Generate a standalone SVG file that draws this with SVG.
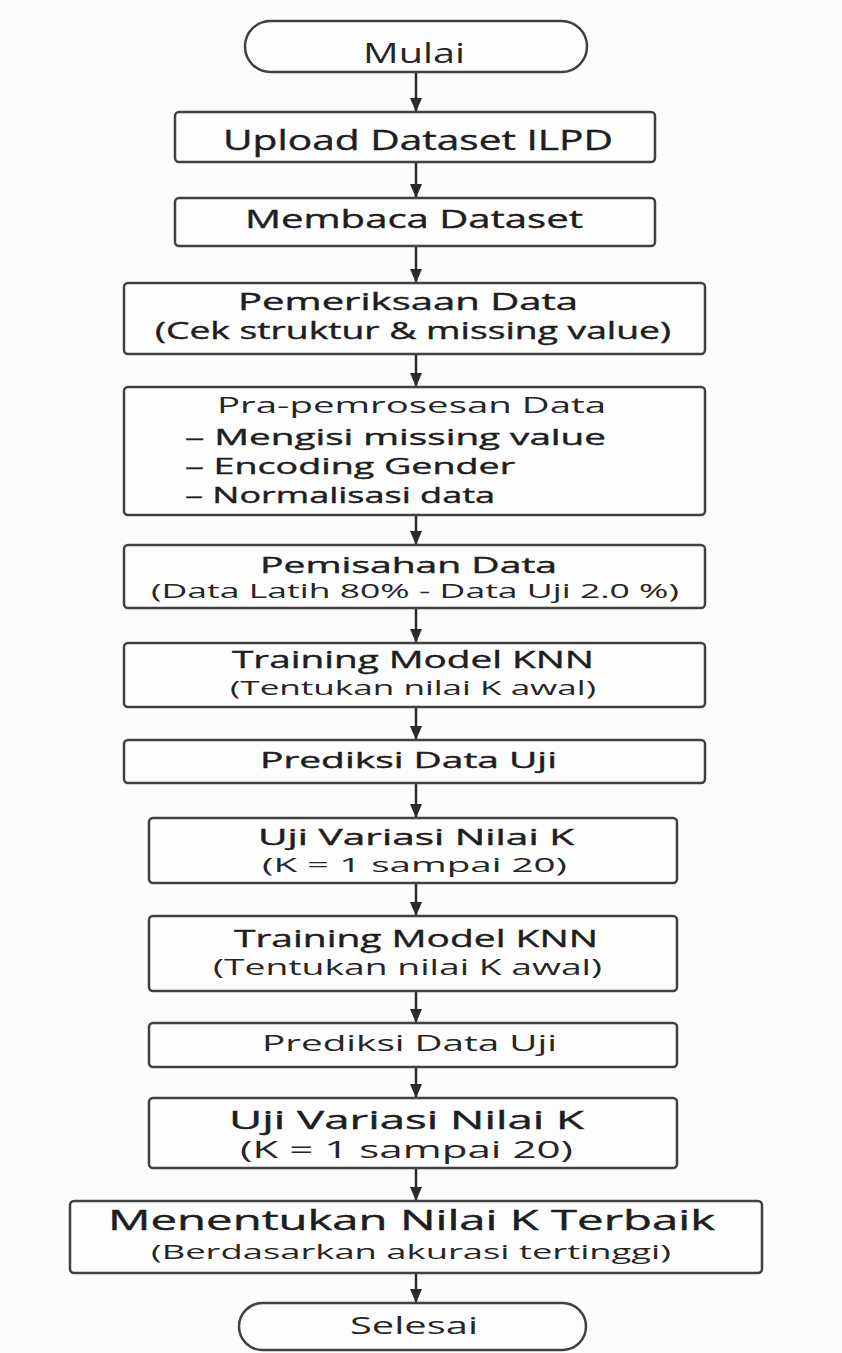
<svg xmlns="http://www.w3.org/2000/svg" width="842" height="1353" viewBox="0 0 842 1353">
<style>
.bg{fill:#fcfcfc}
.box{fill:#fdfdfd;stroke:#404040;stroke-width:2.5}
.t{font-family:"Open Sans","DejaVu Sans",sans-serif;fill:#1e1e1e;font-weight:normal;stroke:#1e1e1e;stroke-width:0.4}
.s{font-family:"Open Sans","DejaVu Sans",sans-serif;fill:#262626;font-weight:normal}
.c{stroke:#2a2a2a;stroke-width:2.5;fill:none}
</style>
<defs>
<marker id="ah" viewBox="0 0 14 12" refX="13" refY="6" markerWidth="14" markerHeight="12" markerUnits="userSpaceOnUse" orient="auto">
<path d="M0,0 L14,6 L0,12 Z" fill="#2a2a2a"/>
</marker>
</defs>
<rect class="bg" x="0" y="0" width="842" height="1353"/>
<g id="connectors">
<line class="c" x1="416" y1="72" x2="416" y2="111" marker-end="url(#ah)"/>
<line class="c" x1="416" y1="162" x2="416" y2="197" marker-end="url(#ah)"/>
<line class="c" x1="416" y1="246" x2="416" y2="282" marker-end="url(#ah)"/>
<line class="c" x1="416" y1="354" x2="416" y2="386" marker-end="url(#ah)"/>
<line class="c" x1="416" y1="515" x2="416" y2="544" marker-end="url(#ah)"/>
<line class="c" x1="416" y1="608" x2="416" y2="642" marker-end="url(#ah)"/>
<line class="c" x1="416" y1="707" x2="416" y2="739" marker-end="url(#ah)"/>
<line class="c" x1="416" y1="783" x2="416" y2="817" marker-end="url(#ah)"/>
<line class="c" x1="416" y1="883" x2="416" y2="915" marker-end="url(#ah)"/>
<line class="c" x1="416" y1="991" x2="416" y2="1022" marker-end="url(#ah)"/>
<line class="c" x1="416" y1="1067" x2="416" y2="1097" marker-end="url(#ah)"/>
<line class="c" x1="416" y1="1168" x2="416" y2="1200" marker-end="url(#ah)"/>
<line class="c" x1="416" y1="1273" x2="416" y2="1302" marker-end="url(#ah)"/>
</g>
<g id="mulai">
<rect class="box" x="245" y="21" width="342" height="51" rx="25.5"/>
<text class="s" x="363" y="63" font-size="28" textLength="102" lengthAdjust="spacingAndGlyphs">Mulai</text>
</g>
<g id="upload">
<rect class="box" x="175" y="112" width="480" height="50" rx="4"/>
<text class="t" x="223" y="150" font-size="27" textLength="390" lengthAdjust="spacingAndGlyphs">Upload Dataset ILPD</text>
</g>
<g id="membaca">
<rect class="box" x="175" y="198" width="480" height="48" rx="4"/>
<text class="t" x="245" y="228" font-size="26" textLength="338" lengthAdjust="spacingAndGlyphs">Membaca Dataset</text>
</g>
<g id="pemeriksaan">
<rect class="box" x="124" y="283" width="581" height="71" rx="4"/>
<text class="t" x="238" y="310" font-size="24" textLength="340" lengthAdjust="spacingAndGlyphs">Pemeriksaan Data</text>
<text class="t" x="155" y="339" font-size="23" textLength="516" lengthAdjust="spacingAndGlyphs">(Cek struktur &amp; missing value)</text>
</g>
<g id="prapemrosesan">
<rect class="box" x="124" y="387" width="581" height="128" rx="4"/>
<text class="s" x="217" y="413" font-size="22" textLength="389" lengthAdjust="spacingAndGlyphs">Pra-pemrosesan Data</text>
<text class="t" x="185" y="445" font-size="22" textLength="421" lengthAdjust="spacingAndGlyphs">– Mengisi missing value</text>
<text class="t" x="185" y="474" font-size="22" textLength="330" lengthAdjust="spacingAndGlyphs">– Encoding Gender</text>
<text class="t" x="185" y="503" font-size="22" textLength="310" lengthAdjust="spacingAndGlyphs">– Normalisasi data</text>
</g>
<g id="pemisahan">
<rect class="box" x="124" y="545" width="581" height="63" rx="4"/>
<text class="t" x="260" y="573" font-size="22" textLength="297" lengthAdjust="spacingAndGlyphs">Pemisahan Data</text>
<text class="s" x="151" y="598" font-size="20" textLength="528" lengthAdjust="spacingAndGlyphs">(Data Latih 80% - Data Uji 2.0 %)</text>
</g>
<g id="training1">
<rect class="box" x="124" y="643" width="581" height="64" rx="4"/>
<text class="t" x="232" y="668" font-size="24" textLength="362" lengthAdjust="spacingAndGlyphs">Training Model KNN</text>
<text class="s" x="230" y="695" font-size="20" textLength="366" lengthAdjust="spacingAndGlyphs">(Tentukan nilai K awal)</text>
</g>
<g id="prediksi1">
<rect class="box" x="124" y="740" width="581" height="43" rx="4"/>
<text class="t" x="260" y="768" font-size="22" textLength="297" lengthAdjust="spacingAndGlyphs">Prediksi Data Uji</text>
</g>
<g id="uji1">
<rect class="box" x="149" y="818" width="528" height="65" rx="4"/>
<text class="t" x="258" y="845" font-size="22" textLength="316" lengthAdjust="spacingAndGlyphs">Uji Variasi Nilai K</text>
<text class="s" x="262" y="872" font-size="20" textLength="305" lengthAdjust="spacingAndGlyphs">(K = 1 sampai 20)</text>
</g>
<g id="training2">
<rect class="box" x="149" y="916" width="528" height="75" rx="4"/>
<text class="t" x="234" y="947" font-size="24" textLength="364" lengthAdjust="spacingAndGlyphs">Training Model KNN</text>
<text class="s" x="213" y="975" font-size="22" textLength="389" lengthAdjust="spacingAndGlyphs">(Tentukan nilai K awal)</text>
</g>
<g id="prediksi2">
<rect class="box" x="149" y="1023" width="528" height="44" rx="4"/>
<text class="s" x="262" y="1051" font-size="22" textLength="295" lengthAdjust="spacingAndGlyphs">Prediksi Data Uji</text>
</g>
<g id="uji2">
<rect class="box" x="149" y="1098" width="528" height="70" rx="4"/>
<text class="t" x="229" y="1129" font-size="25" textLength="355" lengthAdjust="spacingAndGlyphs">Uji Variasi Nilai K</text>
<text class="s" x="240" y="1158" font-size="23" textLength="333" lengthAdjust="spacingAndGlyphs">(K = 1 sampai 20)</text>
</g>
<g id="menentukan">
<rect class="box" x="70" y="1201" width="692" height="72" rx="4"/>
<text class="t" x="108" y="1230" font-size="27" textLength="607" lengthAdjust="spacingAndGlyphs">Menentukan Nilai K Terbaik</text>
<text class="s" x="151" y="1259" font-size="20" textLength="520" lengthAdjust="spacingAndGlyphs">(Berdasarkan akurasi tertinggi)</text>
</g>
<g id="selesai">
<rect class="box" x="239" y="1303" width="347" height="47" rx="23.5"/>
<text class="s" x="350" y="1334" font-size="24" textLength="128" lengthAdjust="spacingAndGlyphs">Selesai</text>
</g>
</svg>
